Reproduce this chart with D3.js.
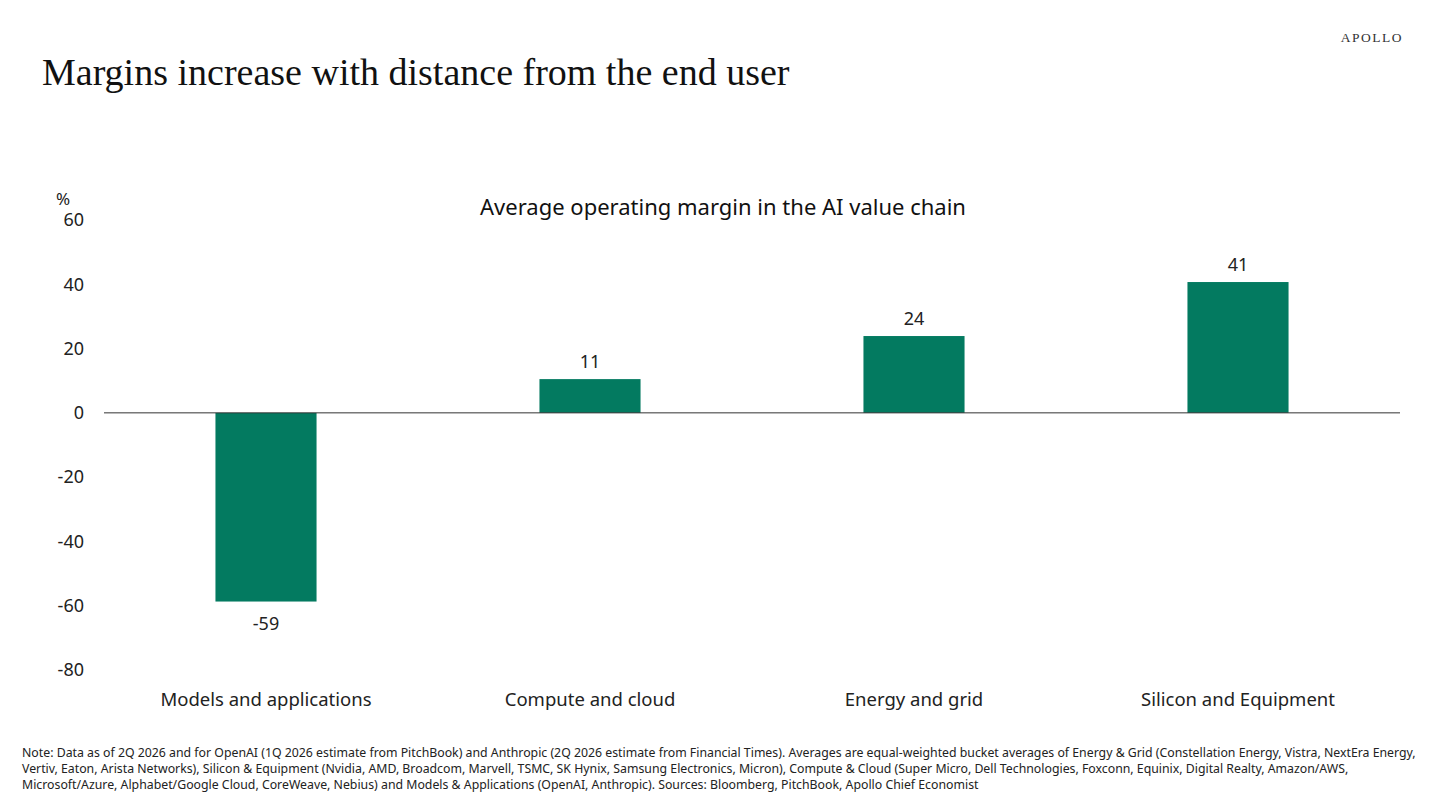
<!DOCTYPE html>
<html><head><meta charset="utf-8">
<script src="https://cdn.jsdelivr.net/npm/d3@7"></script>
<style>
body{margin:0;background:#fff;}
svg{display:block;}
</style></head>
<body>
<svg id="chart" width="1440" height="810"></svg>
<script>
const categories = ["Models and applications","Compute and cloud","Energy and grid","Silicon and Equipment"];
const margins = [-58.7, 10.5, 23.9, 40.7];
const yTicks = [60,40,20,0,-20,-40,-60,-80];
const footnoteLines = [
 "Note: Data as of 2Q 2026 and for OpenAI (1Q 2026 estimate from PitchBook) and Anthropic (2Q 2026 estimate from Financial Times). Averages are equal-weighted bucket averages of Energy & Grid (Constellation Energy, Vistra, NextEra Energy,",
 "Vertiv, Eaton, Arista Networks), Silicon & Equipment (Nvidia, AMD, Broadcom, Marvell, TSMC, SK Hynix, Samsung Electronics, Micron), Compute & Cloud (Super Micro, Dell Technologies, Foxconn, Equinix, Digital Realty, Amazon/AWS,",
 "Microsoft/Azure, Alphabet/Google Cloud, CoreWeave, Nebius) and Models & Applications (OpenAI, Anthropic). Sources: Bloomberg, PitchBook, Apollo Chief Economist"
];

const svg = d3.select("#chart");
const sans = "'Noto Sans', 'Open Sans', sans-serif";
const green = "#037a60";
const fmt = d => d3.format(".0f")(d).replace("\u2212","-");

svg.append("text").attr("x",42).attr("y",85)
  .attr("font-family","'Liberation Serif', serif").attr("font-size",38)
  .attr("fill","#111").text("Margins increase with distance from the end user");
svg.append("text").attr("x",1403).attr("y",42).attr("text-anchor","end")
  .attr("font-family","'Liberation Serif', serif").attr("font-size",13.5)
  .attr("letter-spacing","1.5px").attr("fill","#333").text("APOLLO");

const x = d3.scaleBand().domain(categories).range([104,1400]).paddingInner(0.688).paddingOuter(0.344);
const y = d3.scaleLinear().domain([-80,60]).range([670,220]);

svg.append("text").attr("x",723).attr("y",215).attr("text-anchor","middle")
  .attr("font-family",sans).attr("font-size",22).attr("fill","#111")
  .text("Average operating margin in the AI value chain");

svg.append("text").attr("x",56).attr("y",205).attr("font-family",sans)
  .attr("font-size",17).attr("fill","#222").text("%");

const yAxis = svg.append("g").attr("transform","translate(84,0)")
  .call(d3.axisLeft(y).tickValues(yTicks).tickSize(0).tickPadding(0).tickFormat(fmt));
yAxis.select(".domain").remove();
yAxis.selectAll("text").attr("font-family",sans).attr("font-size",18).attr("fill","#222");

svg.selectAll("rect.bar").data(margins).join("rect").attr("class","bar")
  .attr("x",(d,i)=>x(categories[i])).attr("width",x.bandwidth())
  .attr("y",d=>y(Math.max(0,d))).attr("height",d=>Math.abs(y(d)-y(0)))
  .attr("fill",green);

svg.append("line").attr("x1",104).attr("x2",1400).attr("y1",y(0)).attr("y2",y(0))
  .attr("stroke","#333").attr("stroke-width",1);

svg.selectAll("text.val").data(margins).join("text").attr("class","val")
  .attr("x",(d,i)=>x(categories[i])+x.bandwidth()/2)
  .attr("y",d=> d>=0 ? y(d)-11 : y(d)+28)
  .attr("text-anchor","middle").attr("font-family",sans).attr("font-size",18).attr("fill","#222")
  .text(fmt);

const xAxis = svg.append("g").attr("transform","translate(0,693)")
  .call(d3.axisBottom(x).tickSize(0).tickPadding(0));
xAxis.select(".domain").remove();
xAxis.selectAll("text").attr("font-family",sans).attr("font-size",18.5).attr("fill","#222");

svg.append("g").selectAll("text").data(footnoteLines).join("text")
  .attr("x",22).attr("y",(d,i)=>757+i*16)
  .attr("font-family",sans).attr("font-size",12.3).attr("fill","#222").text(d=>d);
</script>
</body></html>
